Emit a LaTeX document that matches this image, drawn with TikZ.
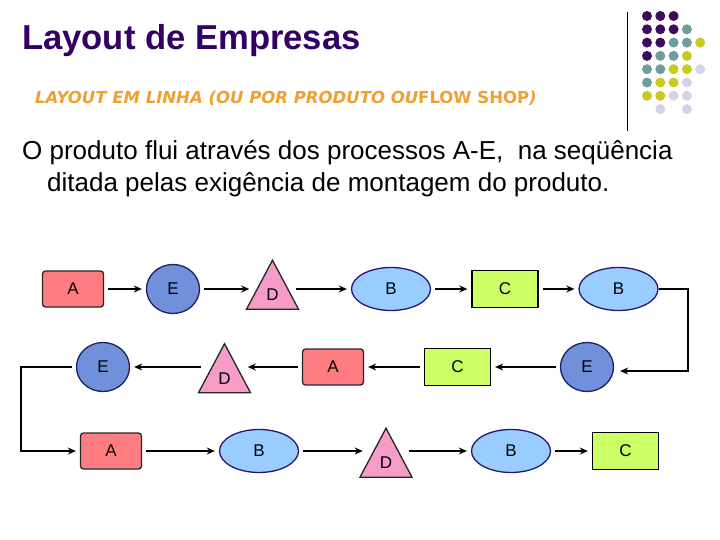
\documentclass[tikz,border=0pt]{standalone}
\usepackage{fontspec}
\setmainfont{Liberation Sans}
\newfontfamily\subfont{DejaVu Sans}
\usetikzlibrary{shapes.geometric,arrows.meta}

\definecolor{titlec}{HTML}{330066}
\definecolor{subc}{HTML}{F0A030}
\definecolor{fillA}{HTML}{FF7C80}
\definecolor{fillB}{HTML}{99CCFF}
\definecolor{fillC}{HTML}{CCFF66}
\definecolor{fillD}{HTML}{F79BC8}
\definecolor{fillE}{HTML}{7090DC}
\definecolor{lineB}{HTML}{2A1670}
\definecolor{lineE}{HTML}{1F1F5F}
\definecolor{dotP}{HTML}{3D0C5E}
\definecolor{dotT}{HTML}{6F9C9C}
\definecolor{dotY}{HTML}{C9C91F}
\definecolor{dotL}{HTML}{D4D4E8}

\tikzset{
  proc/.style={draw, line width=1.3pt, inner sep=0pt, font=\fontsize{17}{17}\selectfont},
  rectA/.style={proc, fill=fillA, draw=black!85, rounded corners=3pt, minimum width=61pt, minimum height=36pt},
  rectC/.style={proc, fill=fillC, draw=black, minimum width=66pt, minimum height=37pt},
  ellB/.style={proc, ellipse, fill=fillB, draw=lineB, minimum width=79pt, minimum height=43pt},
  circE/.style={proc, ellipse, fill=fillE, draw=lineE, minimum width=53pt, minimum height=49pt},
  triD/.style={proc, isosceles triangle, shape border rotate=90, isosceles triangle stretches,
    fill=fillD, draw=black!85, minimum width=52pt, minimum height=49pt, anchor=apex},
  arr/.style={line width=1.3pt, -{Stealth[length=8pt,width=7pt]}, shorten >=4pt, shorten <=4pt},
}

\begin{document}
\begin{tikzpicture}[x=1pt, y=-1pt]
    \useasboundingbox (0,0) rectangle (720,540);

    % heading
    \node [anchor=base west, inner sep=0pt, text=titlec, font=\fontsize{34.6}{34.6}\selectfont\bfseries] (title) at (22,50) {Layout de Empresas};
    \node [anchor=base west, inner sep=0pt, text=subc, font=\subfont\fontsize{16.5}{16.5}\selectfont\bfseries] (sub) at (35,104) {\itshape LAYOUT EM LINHA (OU POR PRODUTO OU\upshape FLOW SHOP\itshape)};
    \node [anchor=base west, inner sep=0pt, font=\fontsize{26}{26}\selectfont] (line1) at (22,160) {O produto flui através dos processos A-E,\ \ na seqüência};
    \node [anchor=base west, inner sep=0pt, font=\fontsize{26}{26}\selectfont] (line2) at (47,192) {ditada pelas exigência de montagem do produto.};

    % dots
    \draw [line width=0.8pt] (627,12) -- (627,131);
    \foreach \r/\c/\col in {0/0/dotP,0/1/dotP,0/2/dotP,
        1/0/dotP,1/1/dotP,1/2/dotP,1/3/dotT,
        2/0/dotP,2/1/dotP,2/2/dotT,2/3/dotT,2/4/dotY,
        3/0/dotP,3/1/dotT,3/2/dotT,3/3/dotY,
        4/0/dotT,4/1/dotT,4/2/dotY,4/3/dotY,4/4/dotL,
        5/0/dotT,5/1/dotY,5/2/dotY,5/3/dotL,
        6/0/dotY,6/1/dotY,6/2/dotL,6/3/dotL,
        7/1/dotL,7/3/dotL}
        \fill [\col] (647+13.3*\c, 16+13.3*\r) circle (5pt);

    % row 1
    \node [rectA] (a11) at (73,289) {A};
    \node [circE] (e12) at (173,289) {E};
    \node [triD] (d13) at (272.5,258.5) {D};
    \node [ellB] (b14) at (391,289) {B};
    \node [rectC] (c15) at (505,289) {C};
    \node [ellB] (b16) at (618.5,289) {B};
    % row 2
    \node [circE] (e21) at (103,367) {E};
    \node [triD] (d22) at (224.5,342) {D};
    \node [rectA] (a23) at (333,367) {A};
    \node [rectC] (c24) at (457.5,367) {C};
    \node [circE] (e25) at (587,367) {E};
    % row 3
    \node [rectA] (a31) at (111,451) {A};
    \node [ellB] (b32) at (259,451) {B};
    \node [triD] (d33) at (386,426.5) {D};
    \node [ellB] (b34) at (511,451) {B};
    \node [rectC] (c35) at (625.5,451) {C};

    \coordinate (r1) at (688,330);
    \coordinate (l1) at (21,410);

    \draw [arr] (a11) -- (e12);
    \draw [arr] (e12) -- (e12 -| d13.west);
    \draw [arr] (d13.east |- b14) -- (b14);
    \draw [arr] (b14) -- (c15);
    \draw [arr] (c15) -- (b16);
    \draw [arr, shorten <=0pt, shorten >=6pt] (b16) -| (r1) |- ([yshift=-4pt]e25.east);
    \draw [arr] (e25) -- (c24);
    \draw [arr] (c24) -- (a23);
    \draw [arr] (a23) -- (a23 -| d22.east);
    \draw [arr] (d22.west |- e21) -- (e21);
    \draw [arr] (e21) -| (l1) |- (a31);
    \draw [arr] (a31) -- (b32);
    \draw [arr] (b32) -- (b32 -| d33.west);
    \draw [arr] (d33.east |- b34) -- (b34);
    \draw [arr] (b34) -- (c35);
\end{tikzpicture}
\end{document}
